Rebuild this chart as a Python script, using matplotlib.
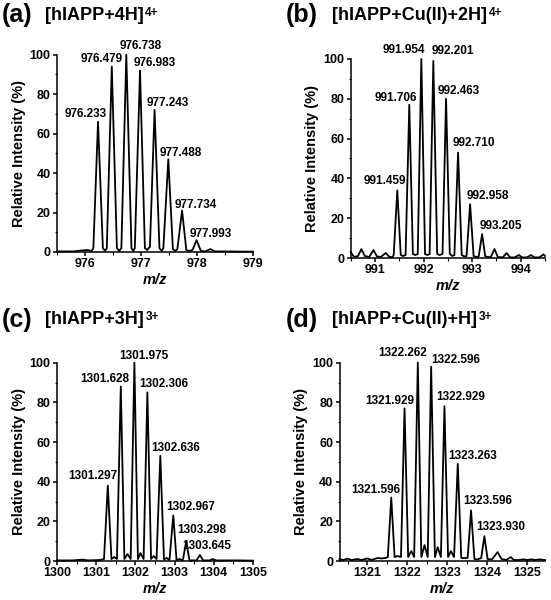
import numpy as np
import matplotlib
matplotlib.use("Agg")
import matplotlib.pyplot as plt
from matplotlib.ticker import MultipleLocator

plt.rcParams["font.family"] = ["Liberation Sans", "DejaVu Sans"]
plt.rcParams["font.weight"] = "bold"

#
# spectra (m/z, relative intensity %)
#
a_mz = [975.5, 975.8, 975.95, 976.05, 976.12, 976.15, 976.233, 976.32, 976.36, 976.39, 976.479,
        976.57, 976.61, 976.65, 976.738, 976.83, 976.86, 976.89, 976.983, 977.07, 977.11, 977.13,
        977.16, 977.243, 977.33, 977.37, 977.40, 977.488, 977.57, 977.61, 977.65, 977.734, 977.81,
        977.86, 977.92, 977.993, 978.07, 978.15, 978.24, 978.32, 978.5, 978.75, 979.0]
a_int = [0.3, 0.3, 0.8, 1.0, 0.5, 2, 66, 2, 0.5, 2, 94,
         2, 0.5, 2, 100, 2, 0.5, 2, 92, 2, 1.0, 1.8,
         2.5, 72, 2, 0.5, 2, 47, 1.5, 0.5, 1.5, 21, 1,
         0.5, 1, 6, 0.5, 0.3, 1.5, 0.3, 0.3, 0.2, 0.2]

b_mz = [990.5, 990.57, 990.65, 990.72, 990.79, 990.88, 990.97, 991.04, 991.12, 991.22, 991.30,
        991.36, 991.385, 991.459, 991.53, 991.58, 991.63, 991.706, 991.78, 991.83, 991.88, 991.954,
        992.03, 992.08, 992.125, 992.201, 992.28, 992.33, 992.39, 992.463, 992.54, 992.59, 992.635,
        992.710, 992.785, 992.84, 992.885, 992.958, 993.03, 993.09, 993.135, 993.205, 993.27, 993.38,
        993.46, 993.53, 993.63, 993.71, 993.78, 993.88, 993.96, 994.03, 994.13, 994.21, 994.28,
        994.38, 994.47, 994.5]
b_int = [3, 0.5, 1, 4.5, 1, 0.5, 4, 0.8, 0.5, 2.5, 0.5,
         0.5, 1.5, 34, 1.5, 1.0, 1.5, 77, 2, 1.5, 2, 100,
         2, 1.5, 2, 99, 2, 1.5, 2, 80, 2, 1, 1.5,
         53, 1.5, 0.8, 1, 27, 1, 0.5, 0.8, 12, 0.8, 0.3,
         4.5, 0.5, 0.3, 2.5, 0.3, 0.3, 1.5, 0.3, 0.3, 1.5, 0.3,
         0.3, 1.8, 1.0]

c_mz = [1300, 1300.4, 1300.65, 1300.8, 1301.1, 1301.2, 1301.297, 1301.39, 1301.46, 1301.53, 1301.628,
        1301.72, 1301.80, 1301.88, 1301.975, 1302.065, 1302.13, 1302.21, 1302.306, 1302.40, 1302.47,
        1302.54, 1302.636, 1302.73, 1302.80, 1302.87, 1302.967, 1303.05, 1303.13, 1303.21, 1303.298,
        1303.38, 1303.56, 1303.645, 1303.73, 1303.9, 1303.97, 1304.05, 1304.3, 1304.6, 1305]
c_int = [0.3, 0.3, 0.7, 0.3, 0.5, 1.0, 38, 1.0, 2, 1.0, 88,
         1.0, 3.5, 1.0, 100, 1.0, 4, 1.0, 85, 1.0, 2.5,
         1.0, 53, 0.8, 1.5, 0.5, 23, 0.5, 1, 0.3, 10,
         0.3, 0.3, 3, 0.3, 0.3, 1, 0.3, 0.3, 0.3, 0.2]

d_mz = [1320.3, 1320.4, 1320.5, 1320.6, 1320.75, 1320.85, 1321.0, 1321.1, 1321.25, 1321.35, 1321.45,
        1321.51, 1321.596, 1321.68, 1321.75, 1321.84, 1321.929, 1322.02, 1322.10, 1322.17, 1322.262,
        1322.35, 1322.43, 1322.51, 1322.596, 1322.69, 1322.76, 1322.84, 1322.929, 1323.02, 1323.09,
        1323.17, 1323.263, 1323.35, 1323.43, 1323.51, 1323.596, 1323.68, 1323.76, 1323.85, 1323.930,
        1324.01, 1324.12, 1324.26, 1324.36, 1324.48, 1324.59, 1324.67, 1324.8, 1324.9, 1325.0,
        1325.1, 1325.2, 1325.3, 1325.45]
d_int = [1, 0.5, 1.2, 0.5, 1, 0.5, 1.3, 0.5, 1.5, 1.3, 1.5,
         2, 32, 2, 2.5, 2, 77, 2, 5, 2, 100,
         2, 8, 2, 98, 2, 7, 2, 78, 2, 5,
         2, 49, 1.5, 1.5, 1.5, 25.5, 1, 0.8, 1.5, 12.5,
         1.0, 0.8, 4.5, 1, 0.5, 2, 0.5, 0.5, 0.8, 0.5,
         0.8, 0.5, 0.8, 0.5]

#
# labelled isotope peaks
#
a_pk = [976.233, 976.479, 976.738, 976.983, 977.243, 977.488, 977.734, 977.993]
a_pk_int = [66, 94, 100, 92, 72, 47, 21, 6]
a_pk_txt = ["976.233", "976.479", "976.738", "976.983", "977.243", "977.488", "977.734", "977.993"]

b_pk = [991.459, 991.706, 991.954, 992.201, 992.463, 992.710, 992.958, 993.205]
b_pk_int = [34, 77, 100, 99, 80, 53, 27, 12]
b_pk_txt = ["991.459", "991.706", "991.954", "992.201", "992.463", "992.710", "992.958", "993.205"]

c_pk = [1301.297, 1301.628, 1301.975, 1302.306, 1302.636, 1302.967, 1303.298, 1303.645]
c_pk_int = [38, 88, 100, 85, 53, 23, 10, 3]
c_pk_txt = ["1301.297", "1301.628", "1301.975", "1302.306", "1302.636", "1302.967", "1303.298", "1303.645"]

d_pk = [1321.596, 1321.929, 1322.262, 1322.596, 1322.929, 1323.263, 1323.596, 1323.930]
d_pk_int = [32, 77, 100, 98, 78, 49, 25.5, 12.5]
d_pk_txt = ["1321.596", "1321.929", "1322.262", "1322.596", "1322.929", "1323.263", "1323.596", "1323.930"]

# label offsets (pixels, x from peak, y above peak top)
a_dx = [-12, -10, 14, 15, 13, 12, 14, 14]
a_dy = [2, 2, 3, 2, 1, 0, 0, 0]
b_dx = [-12, -13, -17, 20, 13, 16, 18, 19]
b_dy = [3, 1, 3, 4, 2, 4, 2, 2]
c_dx = [-15, -16, 9, 16, 15, 17, 16, 7]
c_dy = [4, 1, 1, 2, 2, 2, 5, 3]
d_dx = [-15, -15, -15, 25, 16, 15, 17, 16]
d_dy = [2, 1, 4, 1, 3, 2, 3, 3]

panels = [
    ("(a)", "[hIAPP+4H]", "4+", a_mz, a_int, a_pk, a_pk_int, a_pk_txt, a_dx, a_dy,
     (975.5, 979), [976, 977, 978, 979], [0.1034, 0.5800, 0.3557, 0.3288], (0.003, 0.975), (0.082, 0.975)),
    ("(b)", "[hIAPP+Cu(II)+2H]", "4+", b_mz, b_int, b_pk, b_pk_int, b_pk_txt, b_dx, b_dy,
     (990.5, 994.5), [991, 992, 993, 994], [0.6365, 0.5700, 0.3526, 0.3317], (0.519, 0.975), (0.603, 0.975)),
    ("(c)", "[hIAPP+3H]", "3+", c_mz, c_int, c_pk, c_pk_int, c_pk_txt, c_dx, c_dy,
     (1300, 1305), [1300, 1301, 1302, 1303, 1304, 1305], [0.1034, 0.0650, 0.3557, 0.3305], (0.003, 0.467), (0.082, 0.467)),
    ("(d)", "[hIAPP+Cu(II)+H]", "3+", d_mz, d_int, d_pk, d_pk_int, d_pk_txt, d_dx, d_dy,
     (1320.3, 1325.45), [1321, 1322, 1323, 1324, 1325], [0.6162, 0.0650, 0.3730, 0.3305], (0.519, 0.467), (0.603, 0.467)),
]

fig = plt.figure(figsize=(5.51, 6.0), dpi=100)

for (tag, title, sup, mz, inten, pk, pk_int, pk_txt, dx, dy, xlim, xt, rect, tagpos, titpos) in panels:
    ax = fig.add_axes(rect)
    ax.plot(mz, inten, color="black", lw=1.3, clip_on=False)
    ax.set_xlim(*xlim)
    ax.set_ylim(0, 100)
    ax.set_xticks(xt)
    ax.set_yticks([0, 20, 40, 60, 80, 100])
    ax.xaxis.set_minor_locator(MultipleLocator(0.5))
    ax.yaxis.set_minor_locator(MultipleLocator(10))
    for s in ["top", "right"]:
        ax.spines[s].set_visible(False)
    for s in ["left", "bottom"]:
        ax.spines[s].set_linewidth(1.1)
    ax.tick_params(which="major", direction="out", length=3, width=1.1, labelsize=9, pad=1.5)
    ax.tick_params(which="minor", direction="out", length=1.8, width=0.8)
    for lab in ax.get_xticklabels() + ax.get_yticklabels():
        lab.set_fontweight("bold")
    ax.set_ylabel("Relative Intensity (%)", fontsize=10.5, fontweight="bold", labelpad=3)
    ax.set_xlabel("m/z", fontsize=10.5, fontweight="bold", fontstyle="italic", labelpad=2)
    for x, y, t, ox, oy in zip(pk, pk_int, pk_txt, dx, dy):
        ax.annotate(t, (x, y), xytext=(ox, oy), textcoords="offset pixels",
                    ha="center", va="bottom", fontsize=8.5, fontweight="bold",
                    annotation_clip=False)
    fig.text(tagpos[0], tagpos[1], tag, fontsize=18, fontweight="bold", va="center", ha="left")
    tt = fig.text(titpos[0], titpos[1], title, fontsize=13, fontweight="bold", va="center", ha="left")
    ax.annotate(sup, xy=(1, 1), xycoords=tt, xytext=(1, 0), textcoords="offset points",
                ha="left", va="top", fontsize=8.5, fontweight="bold", annotation_clip=False)

fig.savefig("out.png", dpi=100)
